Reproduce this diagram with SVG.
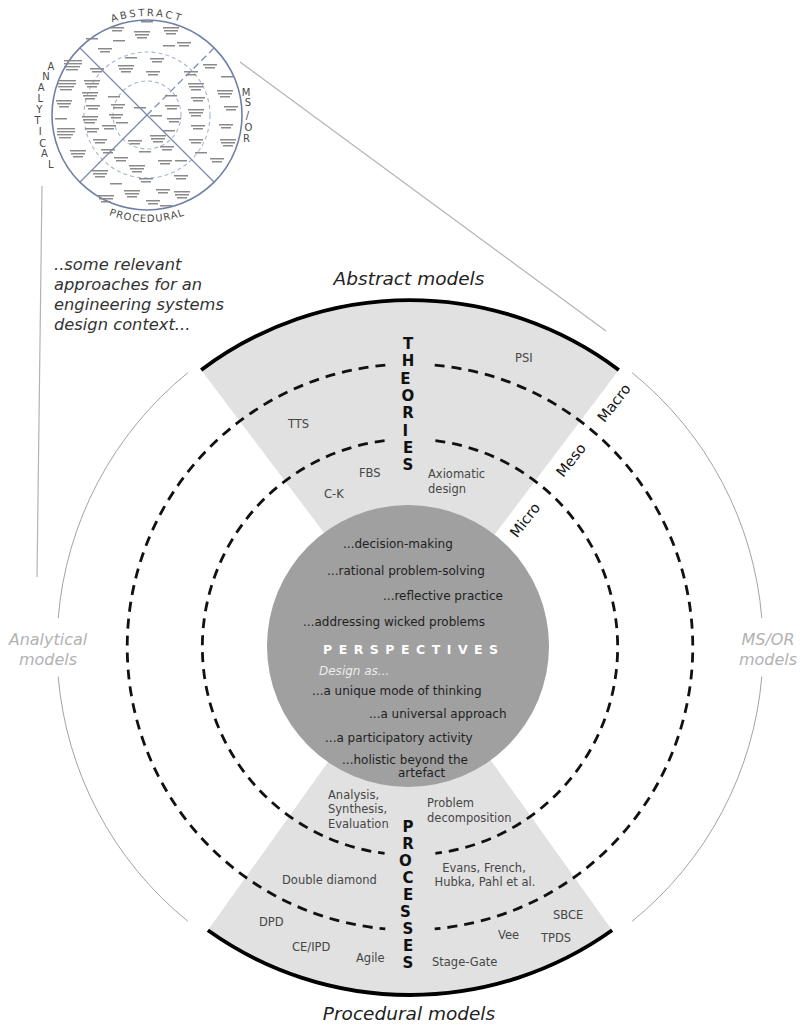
<svg xmlns="http://www.w3.org/2000/svg" width="802" height="1028" viewBox="0 0 802 1028">
  <style>
    text { font-family: "DejaVu Sans", Verdana, sans-serif; }
    .cap { font-style: italic; font-size: 16.3px; fill: #333; }
    .head { font-style: italic; font-size: 18.5px; fill: #222; text-anchor: middle; }
    .side { font-style: italic; font-size: 16px; fill: #b2b2b2; text-anchor: middle; }
    .vert { font-weight: bold; font-size: 15px; fill: #111; text-anchor: middle; }
    .lbl { font-size: 11.5px; fill: #464646; }
    .mid { text-anchor: middle; }
    .persp { font-size: 12px; fill: #1f1f1f; }
    .scale { font-size: 14.5px; fill: #161616; text-anchor: middle; }
    .wedge { fill: #e1e1e1; }
    .rim { fill: none; stroke: #000; stroke-width: 3.8; }
    .dash { fill: none; stroke: #111; stroke-width: 2.8; stroke-dasharray: 10 7; }
    .thin { fill: none; stroke: #a3a3a3; stroke-width: 1; }
    .link { fill: none; stroke: #b3b3b3; stroke-width: 1.2; }
    .ins-ring { fill: #fff; stroke: #6f80a6; stroke-width: 1.6; }
    .ins-line { stroke: #7a8ab0; stroke-width: 1.3; }
    .ins-dash { fill: none; stroke: #a6b4d2; stroke-width: 1.1; stroke-dasharray: 4 3; }
    .ins-let { font-size: 10px; fill: #4a4a4a; text-anchor: middle; }
    .tiny { fill: #8a8a8a; }
  </style>
  <defs>
    <filter id="soft" x="-10%" y="-10%" width="120%" height="120%">
      <feGaussianBlur stdDeviation="0.6"/>
    </filter>
    <!-- unreadable micro-text blocks of the inset -->
    <g id="b1" class="tiny"><rect x="0" y="0" width="14" height="1.5"/><rect x="2" y="3" width="10" height="1.5"/></g>
    <g id="b2" class="tiny"><rect x="0" y="0" width="16" height="1.5"/><rect x="1" y="3" width="14" height="1.5"/><rect x="3" y="6" width="10" height="1.5"/></g>
    <g id="b3" class="tiny"><rect x="0" y="0" width="12" height="1.5"/></g>
    <g id="b4" class="tiny"><rect x="0" y="0" width="18" height="1.4"/><rect x="0" y="3" width="18" height="1.4"/><rect x="0" y="6" width="16" height="1.4"/><rect x="2" y="9" width="12" height="1.4"/></g>
  </defs>

  <rect width="802" height="1028" fill="#fff"/>

  <!-- leader lines from the inset to the main wheel -->
  <g id="connectors">
    <line class="link" x1="240" y1="62" x2="606" y2="331"/>
    <line class="link" x1="42" y1="186" x2="37" y2="577" stroke-width="1.4"/>
  </g>

  <!-- inset: full classification wheel -->
  <g id="inset">
    <circle class="ins-ring" cx="147" cy="115" r="95"/>
    <circle class="ins-dash" cx="147" cy="115" r="63"/>
    <circle class="ins-dash" cx="147" cy="115" r="34"/>
    <line class="ins-line" x1="80" y1="48" x2="147" y2="115"/>
    <line class="ins-line" x1="80" y1="182" x2="147" y2="115"/>
    <line class="ins-line" x1="214" y1="182" x2="147" y2="115"/>
    <line class="ins-line" x1="214" y1="48" x2="147" y2="115" stroke="#8d9bbd" stroke-width="1.8" stroke-dasharray="7 4"/>
    <g filter="url(#soft)">
      <use href="#b3" x="141" y="21"/><use href="#b1" x="110" y="27"/><use href="#b2" x="134" y="31"/>
      <use href="#b2" x="163" y="27"/><use href="#b3" x="86" y="38"/><use href="#b3" x="113" y="40"/>
      <use href="#b1" x="177" y="42"/><use href="#b1" x="98" y="48"/><use href="#b3" x="163" y="45"/>
      <use href="#b3" x="125" y="57"/><use href="#b1" x="150" y="58"/><use href="#b2" x="118" y="65"/>
      <use href="#b1" x="146" y="71"/>
      <use href="#b1" x="203" y="64"/><use href="#b3" x="221" y="76"/><use href="#b2" x="217" y="90"/>
      <use href="#b1" x="224" y="106"/><use href="#b1" x="219" y="124"/><use href="#b2" x="220" y="139"/>
      <use href="#b1" x="210" y="158"/>
      <use href="#b1" x="184" y="71"/><use href="#b2" x="188" y="83"/><use href="#b1" x="191" y="97"/>
      <use href="#b2" x="188" y="109"/><use href="#b1" x="191" y="125"/><use href="#b1" x="189" y="139"/>
      <use href="#b3" x="195" y="152"/>
      <use href="#b3" x="165" y="95"/><use href="#b1" x="165" y="105"/><use href="#b1" x="167" y="118"/>
      <use href="#b3" x="163" y="130"/>
      <use href="#b4" x="64" y="60"/><use href="#b4" x="58" y="80"/><use href="#b2" x="56" y="100"/>
      <use href="#b3" x="55" y="118"/><use href="#b4" x="57" y="128"/><use href="#b2" x="70" y="150"/>
      <use href="#b1" x="90" y="68"/><use href="#b2" x="84" y="80"/><use href="#b2" x="82" y="92"/>
      <use href="#b1" x="86" y="105"/><use href="#b2" x="82" y="116"/><use href="#b1" x="85" y="128"/>
      <use href="#b1" x="93" y="139"/><use href="#b1" x="101" y="149"/>
      <use href="#b3" x="108" y="96"/><use href="#b1" x="111" y="104"/><use href="#b1" x="109" y="114"/>
      <use href="#b3" x="116" y="122"/><use href="#b1" x="102" y="125"/>
      <use href="#b2" x="92" y="170"/><use href="#b3" x="110" y="183"/><use href="#b2" x="98" y="195"/>
      <use href="#b2" x="124" y="190"/><use href="#b1" x="146" y="200"/><use href="#b1" x="156" y="189"/>
      <use href="#b2" x="174" y="191"/><use href="#b3" x="160" y="205"/>
      <use href="#b1" x="114" y="157"/><use href="#b2" x="129" y="165"/><use href="#b1" x="158" y="160"/>
      <use href="#b1" x="139" y="178"/><use href="#b1" x="174" y="175"/><use href="#b3" x="175" y="160"/>
      <use href="#b1" x="128" y="140"/><use href="#b2" x="150" y="135"/><use href="#b3" x="139" y="151"/>
      <use href="#b1" x="160" y="146"/>
      <use href="#b3" x="134" y="107"/><use href="#b3" x="150" y="115"/>
    </g>
    <path id="arcTop" d="M48,115 A99,99 0 0,1 246,115" fill="none"/>
    <path id="arcBot" d="M40,115 A107,107 0 0,0 254,115" fill="none"/>
    <text class="ins-let" letter-spacing="2.4"><textPath href="#arcTop" startOffset="50%">ABSTRACT</textPath></text>
    <text class="ins-let" letter-spacing="1"><textPath href="#arcBot" startOffset="50%">PROCEDURAL</textPath></text>
    <text class="ins-let" font-size="10.5">
      <tspan x="50.8" y="69.5">A</tspan><tspan x="46.1" y="79.8">N</tspan><tspan x="42.7" y="90.5">A</tspan>
      <tspan x="40.3" y="101.7">L</tspan><tspan x="39.2" y="112.9">Y</tspan><tspan x="39.2" y="124.1">T</tspan>
      <tspan x="40.3" y="135.3">I</tspan><tspan x="42.7" y="146.5">C</tspan><tspan x="46.1" y="157.2">A</tspan>
      <tspan x="50.8" y="167.5">L</tspan>
    </text>
    <text class="ins-let" font-size="10.5">
      <tspan x="246" y="95.5">M</tspan><tspan x="248" y="106">S</tspan><tspan x="249" y="119">/</tspan>
      <tspan x="248.5" y="131">O</tspan><tspan x="246.5" y="142">R</tspan>
    </text>
  </g>

  <!-- caption -->
  <g id="caption">
    <text class="cap" x="54" y="270">..some relevant</text>
    <text class="cap" x="54" y="290">approaches for an</text>
    <text class="cap" x="54" y="310">engineering systems</text>
    <text class="cap" x="54" y="330">design context...</text>
  </g>

  <!-- outer model families -->
  <g id="model-families">
    <path class="thin" d="M187.9,372.7 A353,353 0 0,0 58.2,618.1"/>
    <path class="thin" d="M58.2,676.5 A353,353 0 0,0 187.9,921.3"/>
    <path class="thin" d="M632.1,372.7 A353,353 0 0,1 761.8,618.1"/>
    <path class="thin" d="M761.8,676.5 A353,353 0 0,1 632.1,921.3"/>
    <text class="head" x="409" y="285">Abstract models</text>
    <text class="head" x="409" y="1020">Procedural models</text>
    <text class="side" x="48" y="645">Analytical</text>
    <text class="side" x="48" y="665">models</text>
    <text class="side" x="768" y="645">MS/OR</text>
    <text class="side" x="768" y="665">models</text>
  </g>

  <!-- theories sector -->
  <g id="theories">
    <path class="wedge" d="M410,647 L201.2,369.9 A347,347 0 0,1 618.8,369.9 Z"/>
    <path class="rim" d="M201.2,369.9 A347,347 0 0,1 618.8,369.9"/>
  </g>

  <!-- processes sector -->
  <g id="processes">
    <path class="wedge" d="M410,647 L612.1,930.3 A348,348 0 0,1 207.9,930.3 Z"/>
    <path class="rim" d="M612.1,930.3 A348,348 0 0,1 207.9,930.3"/>
  </g>

  <!-- micro / meso / macro rings -->
  <g id="rings">
    <path class="dash" d="M434.7,365.1 A283,283 0 0,1 434.7,928.9"/>
    <path class="dash" d="M385.3,365.1 A283,283 0 0,0 385.3,928.9"/>
    <path class="dash" d="M435.4,440.6 A208,208 0 0,1 435.4,853.4"/>
    <path class="dash" d="M384.6,440.6 A208,208 0 0,0 384.6,853.4"/>
    <text class="scale" transform="translate(525,520) rotate(-52)" y="5">Micro</text>
    <text class="scale" transform="translate(571,460) rotate(-52)" y="5">Meso</text>
    <text class="scale" transform="translate(614,403) rotate(-52)" y="5">Macro</text>
  </g>

  <!-- perspectives core -->
  <g id="perspectives">
    <circle cx="408" cy="646" r="141" fill="#a0a0a0"/>
    <text class="persp" x="343" y="548">...decision-making</text>
    <text class="persp" x="327" y="575">...rational problem-solving</text>
    <text class="persp" x="383" y="600">...reflective practice</text>
    <text class="persp" x="303" y="626">...addressing wicked problems</text>
    <text x="323" y="654" font-size="12.5" font-weight="bold" fill="#fff" letter-spacing="6.5">PERSPECTIVES</text>
    <text x="319" y="675" font-size="12" font-style="italic" fill="#ececec">Design as...</text>
    <text class="persp" x="312" y="695">...a unique mode of thinking</text>
    <text class="persp" x="369" y="718">...a universal approach</text>
    <text class="persp" x="325" y="742">...a participatory activity</text>
    <text class="persp" x="342" y="764">...holistic beyond the</text>
    <text class="persp" x="398" y="777">artefact</text>
  </g>

  <!-- theories labels -->
  <g id="theories-labels">
    <text class="vert">
      <tspan x="408" y="349">T</tspan><tspan x="408" y="366.3">H</tspan><tspan x="408" y="383.6">E</tspan>
      <tspan x="408" y="400.9">O</tspan><tspan x="408" y="418.2">R</tspan><tspan x="408" y="435.5">I</tspan>
      <tspan x="408" y="452.8">E</tspan><tspan x="408" y="470">S</tspan>
    </text>
    <text class="lbl" x="515" y="362">PSI</text>
    <text class="lbl" x="288" y="428">TTS</text>
    <text class="lbl" x="359" y="477">FBS</text>
    <text class="lbl" x="324" y="498">C-K</text>
    <text class="lbl" x="428" y="478">Axiomatic</text>
    <text class="lbl" x="428" y="493">design</text>
  </g>

  <!-- processes labels -->
  <g id="processes-labels">
    <text class="vert">
      <tspan x="408" y="832">P</tspan><tspan x="408" y="849">R</tspan><tspan x="408" y="866">O</tspan>
      <tspan x="408" y="883">C</tspan><tspan x="408" y="900">E</tspan><tspan x="408" y="917">S</tspan>
      <tspan x="408" y="934">S</tspan><tspan x="408" y="951">E</tspan><tspan x="408" y="968">S</tspan>
    </text>
    <text class="lbl" x="328" y="799">Analysis,</text>
    <text class="lbl" x="328" y="813">Synthesis,</text>
    <text class="lbl" x="328" y="828">Evaluation</text>
    <text class="lbl" x="427" y="807">Problem</text>
    <text class="lbl" x="427" y="822">decomposition</text>
    <text class="lbl mid" x="484" y="872">Evans, French,</text>
    <text class="lbl mid" x="485" y="886">Hubka, Pahl et al.</text>
    <text class="lbl" x="282" y="884">Double diamond</text>
    <text class="lbl" x="259" y="926">DPD</text>
    <text class="lbl" x="292" y="951">CE/IPD</text>
    <text class="lbl" x="356" y="962">Agile</text>
    <text class="lbl" x="432" y="966">Stage-Gate</text>
    <text class="lbl" x="498" y="939">Vee</text>
    <text class="lbl" x="541" y="942">TPDS</text>
    <text class="lbl" x="553" y="919">SBCE</text>
  </g>
</svg>
